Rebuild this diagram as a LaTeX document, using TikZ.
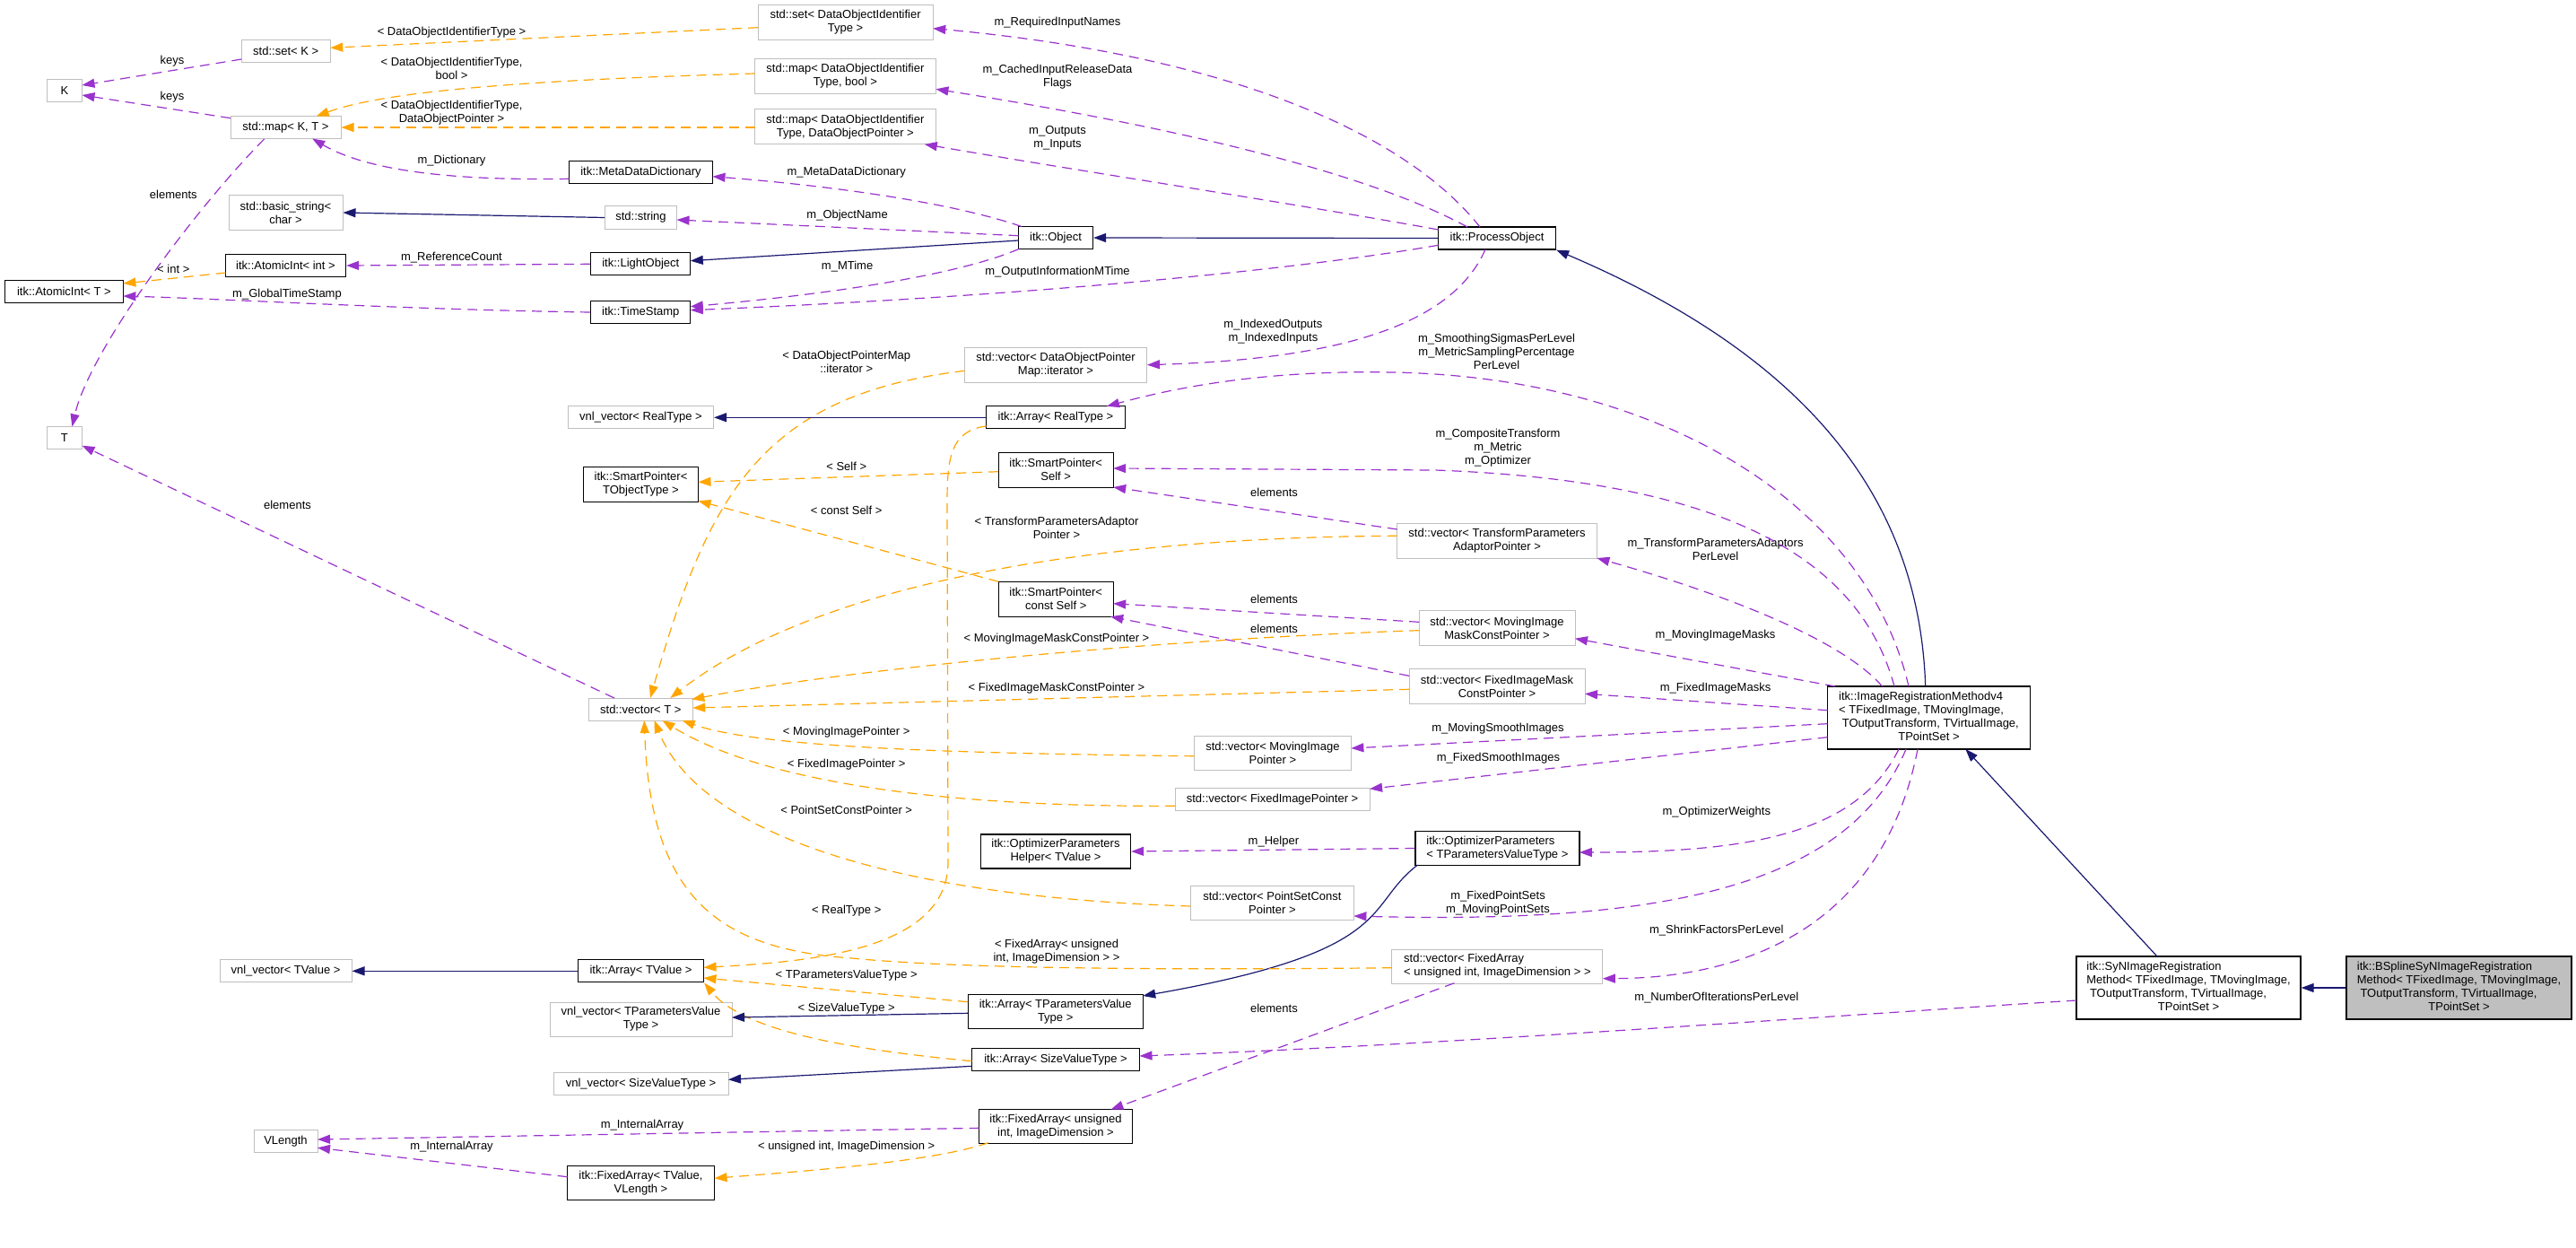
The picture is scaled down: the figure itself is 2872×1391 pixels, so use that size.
\documentclass[tikz,border=0pt]{standalone}
\usepackage{fontspec}
\setmainfont{Liberation Sans}
\usetikzlibrary{arrows.meta,calc}
\definecolor{purp}{HTML}{9A32CD}
\definecolor{orng}{HTML}{FFA500}
\definecolor{navy}{HTML}{191970}
\definecolor{grayb}{HTML}{BFBFBF}
\definecolor{fillg}{HTML}{BFBFBF}
\newcommand\dfont{\fontsize{13}{15}\selectfont}
\renewcommand\arraystretch{1}
\begin{document}
\begin{tikzpicture}[x=1pt,y=-1pt,
  nd/.style={draw, inner sep=0pt, font=\dfont, align=center, anchor=center},
  blk/.style={nd, draw=black, line width=1.3pt, fill=white},
  gry/.style={nd, draw=grayb, line width=1pt, fill=white},
  lbl/.style={inner sep=0pt, font=\dfont, align=center},
  tip/.style={-{Triangle[length=14pt,width=10pt]}},
  pur/.style={draw=purp, line width=1.2pt, dash pattern=on 11pt off 7pt, tip},
  org/.style={draw=orng, line width=1.2pt, dash pattern=on 11pt off 7pt, tip},
  nav/.style={draw=navy, line width=1.2pt, tip}]
\useasboundingbox (0,0) rectangle (2872,1391);
% ---------- nodes ----------
\node[gry, minimum width=39pt, minimum height=25pt] (K) at (71.9,101) {K};
\node[gry, minimum width=99pt, minimum height=25pt] (setK) at (318.7,57) {std::set< K >};
\node[gry, minimum width=123pt, minimum height=25pt] (mapKT) at (318.5,142) {std::map< K, T >};
\node[gry, minimum width=127pt, minimum height=39pt] (bstr) at (318.5,237) {std::basic\_string<\\char >};
\node[blk, minimum width=134pt, minimum height=25pt] (aiint) at (318.5,296) {itk::AtomicInt< int >};
\node[blk, minimum width=132pt, minimum height=25pt] (aiT) at (71.4,325.3) {itk::AtomicInt< T >};
\node[gry, minimum width=39pt, minimum height=25pt] (T) at (71.9,488) {T};
\node[blk, minimum width=160pt, minimum height=25pt] (mdd) at (714.5,192) {itk::MetaDataDictionary};
\node[gry, minimum width=80pt, minimum height=25pt] (str) at (714.5,242.5) {std::string};
\node[blk, minimum width=111pt, minimum height=25pt] (lobj) at (714.3,294.3) {itk::LightObject};
\node[blk, minimum width=111pt, minimum height=25pt] (ts) at (714.3,348) {itk::TimeStamp};
\node[blk, minimum width=83pt, minimum height=25pt] (obj) at (1177,265) {itk::Object};
\node[gry, minimum width=195pt, minimum height=39pt] (setD) at (942.6,25) {std::set< DataObjectIdentifier\\Type >};
\node[gry, minimum width=202pt, minimum height=39pt] (mapDb) at (942.4,85) {std::map< DataObjectIdentifier\\Type, bool >};
\node[gry, minimum width=202pt, minimum height=39pt] (mapDP) at (942.4,141.3) {std::map< DataObjectIdentifier\\Type, DataObjectPointer >};
\node[blk, minimum width=131pt, minimum height=25pt] (po) at (1669,265.5) {itk::ProcessObject};
\node[gry, minimum width=162pt, minimum height=25pt] (vnlR) at (714.5,465.3) {vnl\_vector< RealType >};
\node[blk, minimum width=128pt, minimum height=39pt] (spT) at (714.5,540) {itk::SmartPointer<\\TObjectType >};
\node[gry, minimum width=116pt, minimum height=25pt] (vecT) at (714.3,790.5) {std::vector< T >};
\node[gry, minimum width=203pt, minimum height=39pt] (vecDPM) at (1177,406.7) {std::vector< DataObjectPointer\\Map::iterator >};
\node[blk, minimum width=155pt, minimum height=25pt] (arrR) at (1177,465.3) {itk::Array< RealType >};
\node[blk, minimum width=128pt, minimum height=39pt] (spS) at (1177.2,523.8) {itk::SmartPointer<\\Self >};
\node[blk, minimum width=128pt, minimum height=39pt] (spCS) at (1177.2,667.8) {itk::SmartPointer<\\const Self >};
\node[gry, minimum width=223pt, minimum height=39pt] (vecTPA) at (1669,602.5) {std::vector< TransformParameters\\AdaptorPointer >};
\node[gry, minimum width=174pt, minimum height=39pt] (vecMIM) at (1669,700) {std::vector< MovingImage\\MaskConstPointer >};
\node[gry, minimum width=196pt, minimum height=39pt] (vecFIM) at (1669,765) {std::vector< FixedImageMask\\ConstPointer >};
\node[blk, minimum width=226pt, minimum height=70pt] (irm) at (2150.5,800) {\begin{tabular}{@{}l@{}}itk::ImageRegistrationMethodv4\\< TFixedImage, TMovingImage,\\\ TOutputTransform, TVirtualImage,\\\multicolumn{1}{@{}c@{}}{TPointSet >}\end{tabular}};
\node[blk, minimum width=250pt, minimum height=70pt] (syn) at (2440,1101) {\begin{tabular}{@{}l@{}}itk::SyNImageRegistration\\Method< TFixedImage, TMovingImage,\\\ TOutputTransform, TVirtualImage,\\\multicolumn{1}{@{}c@{}}{TPointSet >}\end{tabular}};
\node[blk, fill=fillg, minimum width=251pt, minimum height=70pt] (bsp) at (2741.5,1101) {\begin{tabular}{@{}l@{}}itk::BSplineSyNImageRegistration\\Method< TFixedImage, TMovingImage,\\\ TOutputTransform, TVirtualImage,\\\multicolumn{1}{@{}c@{}}{TPointSet >}\end{tabular}};
\node[gry, minimum width=147pt, minimum height=25pt] (vnlTV) at (318.5,1082.3) {vnl\_vector< TValue >};
\node[gry, minimum width=71pt, minimum height=25pt] (vlen) at (318.5,1271.7) {VLength};
\node[blk, minimum width=140pt, minimum height=25pt] (arrTV) at (714.5,1082.3) {itk::Array< TValue >};
\node[gry, minimum width=203pt, minimum height=38pt] (vnlTP) at (714.5,1136) {vnl\_vector< TParametersValue\\Type >};
\node[gry, minimum width=195pt, minimum height=25pt] (vnlSV) at (714.5,1207.8) {vnl\_vector< SizeValueType >};
\node[blk, minimum width=164pt, minimum height=38pt] (faTV) at (714.5,1318.8) {itk::FixedArray< TValue,\\VLength >};
\node[blk, minimum width=167pt, minimum height=38pt] (oph) at (1177,949) {itk::OptimizerParameters\\Helper< TValue >};
\node[blk, minimum width=195pt, minimum height=38pt] (arrTP) at (1176.7,1127.3) {itk::Array< TParametersValue\\Type >};
\node[blk, minimum width=187pt, minimum height=25pt] (arrSV) at (1177,1180.7) {itk::Array< SizeValueType >};
\node[blk, minimum width=171pt, minimum height=38pt] (faUI) at (1177,1255.2) {itk::FixedArray< unsigned\\int, ImageDimension >};
\node[gry, minimum width=175pt, minimum height=38pt] (vecMIP) at (1418.9,839.3) {std::vector< MovingImage\\Pointer >};
\node[gry, minimum width=217pt, minimum height=25pt] (vecFIP) at (1418.6,890.8) {std::vector< FixedImagePointer >};
\node[blk, minimum width=183pt, minimum height=38pt] (op) at (1669.4,945.5) {\begin{tabular}{@{}l@{}}itk::OptimizerParameters\\< TParametersValueType >\end{tabular}};
\node[gry, minimum width=182pt, minimum height=38pt] (vecPS) at (1418.4,1006.7) {std::vector< PointSetConst\\Pointer >};
\node[gry, minimum width=235pt, minimum height=38pt] (vecFA) at (1669.4,1077.3) {\begin{tabular}{@{}l@{}}std::vector< FixedArray\\< unsigned int, ImageDimension > >\end{tabular}};
% ---------- labels ----------
\node[lbl] (lk1) at (192,68) {keys};
\node[lbl] (lk2) at (192,108) {keys};
\node[lbl] (lel1) at (193.3,217) {elements};
\node[lbl] (ld1) at (503.5,36) {< DataObjectIdentifierType >};
\node[lbl] (ld2) at (503.5,76) {< DataObjectIdentifierType,\\bool >};
\node[lbl] (ld3) at (503.5,125.5) {< DataObjectIdentifierType,\\DataObjectPointer >};
\node[lbl] (ldict) at (503.5,179) {m\_Dictionary};
\node[lbl] (lref) at (503.5,287) {m\_ReferenceCount};
\node[lbl] (lint) at (193.3,300) {< int >};
\node[lbl] (lgts) at (320,328) {m\_GlobalTimeStamp};
\node[lbl] (lel2) at (320.5,562.7) {elements};
\node[lbl] (lmdd) at (943.7,191.7) {m\_MetaDataDictionary};
\node[lbl] (lon) at (944.6,240) {m\_ObjectName};
\node[lbl] (lmt) at (944.6,297) {m\_MTime};
\node[lbl] (loim) at (1179,302.7) {m\_OutputInformationMTime};
\node[lbl] (lrin) at (1179,24.7) {m\_RequiredInputNames};
\node[lbl] (lcir) at (1179,85.7) {m\_CachedInputReleaseData\\Flags};
\node[lbl] (lout) at (1179,153.7) {m\_Outputs\\m\_Inputs};
\node[lbl] (lidx) at (1419.4,369.7) {m\_IndexedOutputs\\m\_IndexedInputs};
\node[lbl] (lsmo) at (1668.5,391.7) {m\_SmoothingSigmasPerLevel\\m\_MetricSamplingPercentage\\PerLevel};
\node[lbl] (ldpm) at (943.7,403) {< DataObjectPointerMap\\::iterator >};
\node[lbl] (lself) at (943.7,520) {< Self >};
\node[lbl] (lcself) at (943.7,569) {< const Self >};
\node[lbl] (ltpa) at (1178,588) {< TransformParametersAdaptor\\Pointer >};
\node[lbl] (lmimc) at (1178,711.7) {< MovingImageMaskConstPointer >};
\node[lbl] (lfimc) at (1178,766.7) {< FixedImageMaskConstPointer >};
\node[lbl] (lmip) at (943.7,815.7) {< MovingImagePointer >};
\node[lbl] (lcomp) at (1670,499.6) {m\_CompositeTransform\\m\_Metric\\m\_Optimizer};
\node[lbl] (lel3) at (1420.5,549) {elements};
\node[lbl] (ltpal) at (1912.5,612) {m\_TransformParametersAdaptors\\PerLevel};
\node[lbl] (lel4) at (1420.5,667.7) {elements};
\node[lbl] (lel5) at (1420.5,701) {elements};
\node[lbl] (lmim) at (1912.5,708) {m\_MovingImageMasks};
\node[lbl] (lfim) at (1912.5,766.7) {m\_FixedImageMasks};
\node[lbl] (lmsi) at (1670,811.7) {m\_MovingSmoothImages};
\node[lbl] (lfip) at (943.7,851.7) {< FixedImagePointer >};
\node[lbl] (lpsc) at (943.7,903) {< PointSetConstPointer >};
\node[lbl] (lreal) at (943.7,1015) {< RealType >};
\node[lbl] (lfa) at (1178,1060.8) {< FixedArray< unsigned\\int, ImageDimension > >};
\node[lbl] (ltpv) at (943.7,1086.7) {< TParametersValueType >};
\node[lbl] (lsvt) at (943.7,1124.3) {< SizeValueType >};
\node[lbl] (lia1) at (716,1254.3) {m\_InternalArray};
\node[lbl] (luid) at (943.7,1278.3) {< unsigned int, ImageDimension >};
\node[lbl] (lia2) at (503.5,1278.3) {m\_InternalArray};
\node[lbl] (lfsi) at (1670.4,845.3) {m\_FixedSmoothImages};
\node[lbl] (lhelp) at (1419.9,937.7) {m\_Helper};
\node[lbl] (low) at (1913.8,905) {m\_OptimizerWeights};
\node[lbl] (lfps) at (1670,1006.7) {m\_FixedPointSets\\m\_MovingPointSets};
\node[lbl] (lsf) at (1913.8,1036.7) {m\_ShrinkFactorsPerLevel};
\node[lbl] (lel6) at (1420.4,1124.3) {elements};
\node[lbl] (lnoi) at (1913.8,1112.3) {m\_NumberOfIterationsPerLevel};
% ---------- edges ----------
\draw[pur] ($(setK)+(-49.5,9)$) -- ($(K)+(19.6,-6)$);
\draw[pur] ($(mapKT)+(-61.4,-10.3)$) -- ($(K)+(19.6,5)$);
\draw[pur] ($(mapKT)+(-23.9,13)$) .. controls (220,230) and (100,390) .. ($(T)+(8.5,-12.5)$);
\draw[org] ($(setD)+(-97.6,5.7)$) -- ($(setK)+(49.6,-3.7)$);
\draw[org] ($(mapDb)+(-100.9,-3)$) .. controls (550,90) and (420,105) .. ($(mapKT)+(34.2,-12.5)$);
\draw[org] ($(mapDP)+(-100.9,0.7)$) -- (mapKT.east);
\draw[pur] ($(mdd)+(-80,7.3)$) .. controls (480,202) and (400,185) .. ($(mapKT)+(29.7,12.5)$);
\draw[nav] (str.west) -- (bstr.east);
\draw[pur] (lobj.west) -- (aiint.east);
\draw[org] ($(aiint)+(-67,8)$) -- ($(aiT)+(66,-9.3)$);
\draw[pur] (ts.west) .. controls (450,345) and (250,333) .. ($(aiT)+(66,4.7)$);
\draw[pur] ($(vecT)+(-29.5,-12.5)$) -- ($(T)+(19.6,8.7)$);
\draw[pur] ($(obj)+(-38,-12.5)$) .. controls (1050,222) and (900,205) .. ($(mdd)+(80,4.7)$);
\draw[pur] ($(obj)+(-41.5,-2.3)$) -- ($(str)+(40,2.5)$);
\draw[nav] ($(obj)+(-41.5,3)$) -- ($(lobj)+(55.5,-3.6)$);
\draw[pur] ($(obj)+(-41,12.5)$) .. controls (1060,310) and (900,330) .. ($(ts)+(55.5,-6.3)$);
\draw[pur] ($(po)+(-65.5,7.8)$) .. controls (1450,300) and (1150,330) .. ($(ts)+(55.5,-2.3)$);
\draw[nav] (po.west) -- (obj.east);
\draw[pur] ($(po)+(-19,-12.5)$) .. controls (1560,140) and (1350,60) .. ($(setD)+(97.6,6.7)$);
\draw[pur] ($(po)+(-33,-12.5)$) .. controls (1520,190) and (1300,140) .. ($(mapDb)+(101,14.3)$);
\draw[pur] ($(po)+(-65.5,-9.5)$) .. controls (1450,228) and (1200,190) .. ($(mapDP)+(88.4,19.5)$);
\draw[pur] ($(po)+(-13,12.5)$) .. controls (1620,360) and (1500,400) .. (vecDPM.east);
\draw[org] ($(vecDPM)+(-101.5,6.6)$) .. controls (850,440) and (790,550) .. ($(vecT)+(10.7,-12.5)$);
\draw[nav] (arrR.west) -- (vnlR.east);
\draw[pur] ($(irm)+(-22.5,-35)$) .. controls (2080,560) and (1850,420) .. (1552,415) .. controls (1400,412) and (1300,435) .. ($(arrR)+(57,-12.5)$);
\draw[org] ($(spS)+(-64,1.9)$) -- ($(spT)+(64,-2.7)$);
\draw[org] ($(spCS)+(-64,-19.5)$) -- ($(spT)+(64,18.3)$);
\draw[pur] ($(irm)+(-38.5,-35)$) .. controls (2070,610) and (1900,535) .. (1600,524) -- ($(spS)+(64,-1.8)$);
\draw[pur] ($(vecTPA)+(-111.3,-12.5)$) -- ($(spS)+(64,19.2)$);
\draw[org] ($(vecTPA)+(-111.3,-5.2)$) .. controls (1350,598) and (950,620) .. ($(vecT)+(33,-12.5)$);
\draw[pur] ($(irm)+(-52,-35)$) .. controls (2060,720) and (1950,670) .. ($(vecTPA)+(111.4,19.5)$);
\draw[pur] ($(vecMIM)+(-87,-6.7)$) -- ($(spCS)+(64,4.9)$);
\draw[pur] ($(vecFIM)+(-98,-11.7)$) -- ($(spCS)+(61,19.5)$);
\draw[org] ($(vecMIM)+(-87,2.7)$) .. controls (1300,712) and (950,745) .. ($(vecT)+(57,-11)$);
\draw[org] ($(vecFIM)+(-98,3.3)$) -- ($(vecT)+(58,-1.5)$);
\draw[pur] ($(irm)+(-104.5,-35)$) -- ($(vecMIM)+(87,11.7)$);
\draw[pur] ($(irm)+(-113,-8.3)$) -- ($(vecFIM)+(98,8.3)$);
\draw[pur] ($(irm)+(-113,6.7)$) -- ($(vecMIP)+(87.5,-5.3)$);
\draw[org] ($(vecMIP)+(-87.5,3.4)$) .. controls (1100,840) and (850,835) .. ($(vecT)+(46.4,12.5)$);
\draw[pur] ($(irm)+(-113,21.7)$) -- ($(vecFIP)+(108.5,-11.5)$);
\draw[org] ($(vecFIP)+(-108.5,7.5)$) .. controls (1000,900) and (830,860) .. ($(vecT)+(24.1,12.5)$);
\draw[org] ($(vecPS)+(-91,3.3)$) .. controls (1000,1000) and (780,930) .. ($(vecT)+(15.2,12.5)$);
\draw[pur] ($(irm)+(-25.5,35)$) .. controls (2060,990) and (1850,1030) .. ($(vecPS)+(91,14.3)$);
\draw[pur] ($(irm)+(-33.5,35)$) .. controls (2070,930) and (1950,950) .. ($(op)+(91.5,4.5)$);
\draw[pur] ($(irm)+(-12.5,35)$) .. controls (2100,1030) and (1950,1090) .. ($(vecFA)+(117.5,13.4)$);
\draw[pur] (op.west) -- (oph.east);
\draw[nav] ($(op)+(-88.8,18.5)$) .. controls (1520,1010) and (1560,1060) .. ($(arrTP)+(97.5,-17.3)$);
\draw[nav] ($(syn)+(-35,-35)$) -- ($(irm)+(40.9,35)$);
\draw[nav] (bsp.west) -- (syn.east);
\draw[pur] ($(syn)+(-125,14)$) .. controls (2000,1135) and (1600,1165) .. ($(arrSV)+(93.5,-3.7)$);
\draw[org] ($(vecFA)+(-117.5,1.4)$) .. controls (1250,1082) and (1050,1078) .. (950,1068) .. controls (800,1058) and (725,1000) .. ($(vecT)+(4,12.5)$);
\draw[org] ($(arrR)+(-77.5,9.7)$) .. controls (1060,480) and (1056,510) .. (1056,560) -- (1057,960) .. controls (1058,1060) and (900,1072) .. ($(arrTV)+(70,-4)$);
\draw[org] ($(arrTP)+(-97.5,-10.6)$) -- ($(arrTV)+(70,7.7)$);
\draw[org] ($(arrSV)+(-93.5,2)$) .. controls (950,1170) and (830,1150) .. (arrTV.south east);
\draw[nav] ($(arrTP)+(-97.5,2)$) -- ($(vnlTP)+(101.5,-2)$);
\draw[nav] ($(arrSV)+(-93.5,7.6)$) -- ($(vnlSV)+(97.5,-4.5)$);
\draw[nav] (arrTV.west) -- (vnlTV.east);
\draw[pur] ($(vecFA)+(-48,18.4)$) -- ($(faUI)+(61.4,-18.5)$);
\draw[pur] ($(faUI)+(-85.5,2.1)$) -- ($(vlen)+(35.5,-1.7)$);
\draw[pur] ($(faTV)+(-82,-7.1)$) -- ($(vlen)+(35.5,7.6)$);
\draw[org] ($(faUI)+(-75,18.5)$) .. controls (1040,1295) and (900,1305) .. ($(faTV)+(82,-5.5)$);
\draw[nav] ($(irm)+(-3.8,-35)$) .. controls (2140,560) and (2020,400) .. (po.south east);
\end{tikzpicture}
\end{document}
